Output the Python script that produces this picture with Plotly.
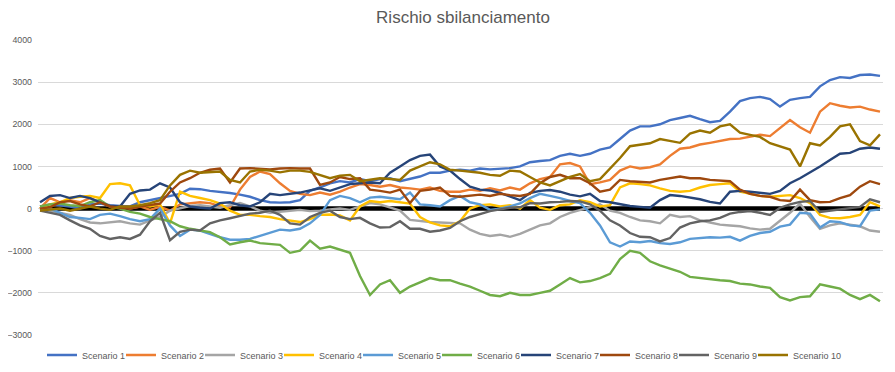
import plotly.graph_objects as go

# sample index i corresponds to one evenly spaced step along the time axis
steps = list(range(85))

scenario_1 = [50, 100, 80, 50, 0, 100, 120, 80, 60, 50, 150, 200, 250, 300, 350, 470, 460, 420, 400, 370,
              330, 280, 200, 150, 140, 150, 200, 420, 500, 600, 650, 620, 700, 650, 700, 720, 650, 700, 760, 850,
              850, 900, 920, 900, 950, 930, 950, 960, 1000, 1100, 1130, 1150, 1250, 1300, 1250, 1300, 1400, 1450, 1650, 1850,
              1950, 1950, 2000, 2100, 2150, 2200, 2120, 2050, 2080, 2300, 2550, 2620, 2650, 2600, 2420, 2580, 2620, 2650, 2900, 3050,
              3120, 3100, 3170, 3180, 3150]
scenario_2 = [0, 250, 150, 200, 150, 250, 150, 50, 50, 0, 50, -30, 40, -50, 100, 130, 150, 130, 60, 30,
              450, 750, 880, 820, 600, 420, 350, 320, 380, 330, 400, 500, 580, 560, 520, 560, 500, 480, 450, 500,
              420, 400, 400, 450, 420, 480, 430, 500, 450, 600, 700, 750, 1050, 1080, 1000, 580, 620, 680, 900, 1000,
              950, 980, 1050, 1250, 1420, 1450, 1520, 1560, 1600, 1650, 1660, 1700, 1750, 1720, 1900, 2100, 1930, 1800, 2300, 2500,
              2440, 2400, 2420, 2350, 2300]
scenario_3 = [0, -50, -100, -150, -250, -330, -350, -330, -300, -350, -380, -280, -200, -50, 0, 60, 80, 50, 20, 80,
              130, 50, -50, -100, -80, -50, -30, -60, -50, -20, 0, -30, 50, 130, 100, 20, -50, -270, -300, -320,
              -330, -340, -350, -500, -600, -650, -620, -670, -600, -500, -400, -350, -200, -100, -30, 40, 100, -50, -100, -200,
              -280, -300, -350, -150, -200, -180, -280, -330, -380, -400, -420, -470, -500, -480, -300, -100, 120, -200, -480, -400,
              -350, -380, -420, -520, -550]
scenario_4 = [0, 100, 150, 250, 280, 300, 250, 580, 600, 550, 80, 50, 100, -350, 400, 300, 250, 200, 120, -50,
              -150, -150, -180, -200, -250, -280, -320, -250, -150, -140, -160, -280, 50, 180, 150, 180, 150, 120, -200, -330,
              -400, -420, -300, 0, 80, 100, 50, 80, 0, 200, 20, -30, 80, 100, 200, 150, 50, 80, 500, 600,
              580, 550, 480, 420, 400, 420, 500, 560, 580, 600, 400, 350, 300, 280, 300, 320, 250, 130, -150, -220,
              -230, -200, -150, 150, 50]
scenario_5 = [0, 0, -100, -200, -220, -250, -150, -120, -180, -250, -300, -250, 0, -400, -650, -500, -520, -600, -680, -740,
              -740, -720, -650, -580, -500, -520, -480, -350, -150, 200, 300, 250, 150, 260, 280, 250, 220, 380, 100, 80,
              50, 200, 300, 150, 100, -30, 0, 50, 120, 250, 350, 300, 250, 180, 130, -100, -400, -800, -900, -780,
              -800, -770, -820, -840, -800, -720, -700, -680, -690, -670, -760, -650, -580, -550, -430, -380, -100, -120, -450, -300,
              -320, -400, -420, -50, -20]
scenario_6 = [50, 100, 120, 80, 60, 150, 200, 50, 0, -80, -120, -200, -250, -300, -420, -480, -520, -560, -680, -850,
              -800, -760, -820, -840, -860, -1050, -1000, -760, -950, -900, -980, -1050, -1600, -2050, -1800, -1700, -2000, -1850, -1750, -1650,
              -1700, -1700, -1780, -1850, -1950, -2050, -2080, -2000, -2050, -2050, -2000, -1950, -1800, -1650, -1750, -1720, -1650, -1550, -1200, -1000,
              -1050, -1250, -1350, -1420, -1500, -1620, -1650, -1670, -1700, -1720, -1780, -1800, -1850, -1880, -2100, -2180, -2100, -2080, -1800, -1850,
              -1900, -2050, -2150, -2050, -2200]
scenario_7 = [150, 300, 320, 250, 300, 250, 150, 60, 50, 350, 430, 450, 600, 500, 150, 50, 20, 0, 130, 150,
              80, 50, 150, 350, 320, 350, 380, 430, 480, 420, 500, 580, 600, 620, 600, 850, 1000, 1150, 1250, 1280,
              1000, 900, 700, 520, 450, 430, 370, 280, 200, 370, 420, 440, 400, 330, 290, 350, 180, 150, 100, 60,
              40, 20, 200, 320, 300, 260, 220, 160, 120, 400, 420, 400, 380, 350, 420, 600, 720, 850, 1000, 1150,
              1300, 1320, 1420, 1450, 1420]
scenario_8 = [0, 30, 150, 180, 100, 50, 150, 50, 20, 0, 50, 80, 120, 400, 620, 720, 850, 920, 950, 620,
              950, 960, 940, 930, 950, 960, 950, 950, 560, 620, 750, 700, 720, 450, 420, 380, 450, 130, 420, 450,
              500, 300, 280, 300, 330, 300, 350, 320, 300, 350, 600, 750, 800, 720, 720, 600, 400, 450, 680, 650,
              640, 620, 680, 720, 760, 720, 720, 680, 660, 650, 450, 350, 300, 280, 200, 180, 450, 200, 150, 160,
              250, 320, 520, 650, 580]
scenario_9 = [-50, -100, -150, -280, -400, -480, -650, -720, -680, -720, -620, -300, -100, -750, -550, -500, -520, -350, -280, -230,
              -180, -120, -100, -50, -150, -350, -380, -200, -100, -50, -200, -250, -220, -350, -450, -440, -300, -480, -480, -550,
              -520, -460, -300, -200, -130, -60, -20, 20, 30, 130, 120, 150, 160, 180, 170, 100, -50, -280, -400, -580,
              -670, -680, -780, -700, -450, -350, -300, -280, -220, -120, -80, -60, -100, -150, 20, 100, 160, 180, -80, -50,
              -30, 0, 40, 220, 150]
scenario_10 = [-50, -30, 0, -50, 0, 50, 0, -30, 50, 50, 80, 130, 200, 550, 800, 900, 850, 860, 880, 680,
               620, 880, 920, 900, 860, 900, 900, 870, 800, 720, 780, 800, 650, 680, 720, 700, 680, 900, 1000, 1100,
               1050, 920, 900, 880, 850, 800, 780, 900, 880, 750, 620, 550, 650, 750, 820, 650, 700, 950, 1200, 1480,
               1520, 1550, 1650, 1600, 1560, 1780, 1850, 1800, 1950, 2000, 1800, 1750, 1700, 1550, 1480, 1400, 1000, 1550, 1500, 1700,
               1950, 2000, 1600, 1500, 1760]
zero_line = [0] * len(steps)

names = ["Scenario 1", "Scenario 2", "Scenario 3", "Scenario 4", "Scenario 5",
         "Scenario 6", "Scenario 7", "Scenario 8", "Scenario 9", "Scenario 10"]
series = [scenario_1, scenario_2, scenario_3, scenario_4, scenario_5,
          scenario_6, scenario_7, scenario_8, scenario_9, scenario_10]
colors = ["#4472C4", "#ED7D31", "#A5A5A5", "#FFC000", "#5B9BD5",
          "#70AD47", "#264478", "#9E480E", "#636363", "#997300"]
y_ticks = [-3000, -2000, -1000, 0, 1000, 2000, 3000, 4000]

fig = go.Figure()
fig.add_trace(go.Scatter(x=steps, y=zero_line, mode="lines", line=dict(color="#000000", width=4.5),
                         showlegend=False, hoverinfo="skip"))

legend_layout = {}
for k, (name, vals, col) in enumerate(zip(names, series, colors)):
    key = "legend" if k == 0 else f"legend{k + 1}"
    fig.add_trace(go.Scatter(x=steps, y=vals, mode="lines", name=name, legend=key,
                             line=dict(color=col, width=2.4)))
    legend_layout[key] = dict(orientation="h", x=(4 + 79 * k) / 845, xanchor="left",
                              y=-0.068, yanchor="middle", itemwidth=30,
                              font=dict(size=9, color="#595959"), bgcolor="rgba(0,0,0,0)")

fig.update_layout(
    width=887, height=364,
    margin=dict(l=30, r=12, t=32, b=37, autoexpand=False),
    paper_bgcolor="white", plot_bgcolor="white",
    font=dict(family="Liberation Sans, Arial, sans-serif", color="#595959", size=9),
    title=dict(text="Rischio sbilanciamento", x=0.513, xanchor="center", y=0.975, yanchor="middle",
               xref="container", yref="container", font=dict(size=17, color="#595959")),
    showlegend=True,
    **legend_layout,
)
fig.update_xaxes(range=[-0.2, 84.3], showgrid=False, zeroline=False, showticklabels=False,
                 showline=False, ticks="", automargin=False)
fig.update_yaxes(range=[-3000, 4000], tickvals=y_ticks, showgrid=True, gridcolor="#D9D9D9",
                 gridwidth=1, zeroline=False, showline=False, ticks="", ticklabelstandoff=5,
                 automargin=False, tickfont=dict(size=8.8, color="#595959"))

fig.write_html("out.html")
